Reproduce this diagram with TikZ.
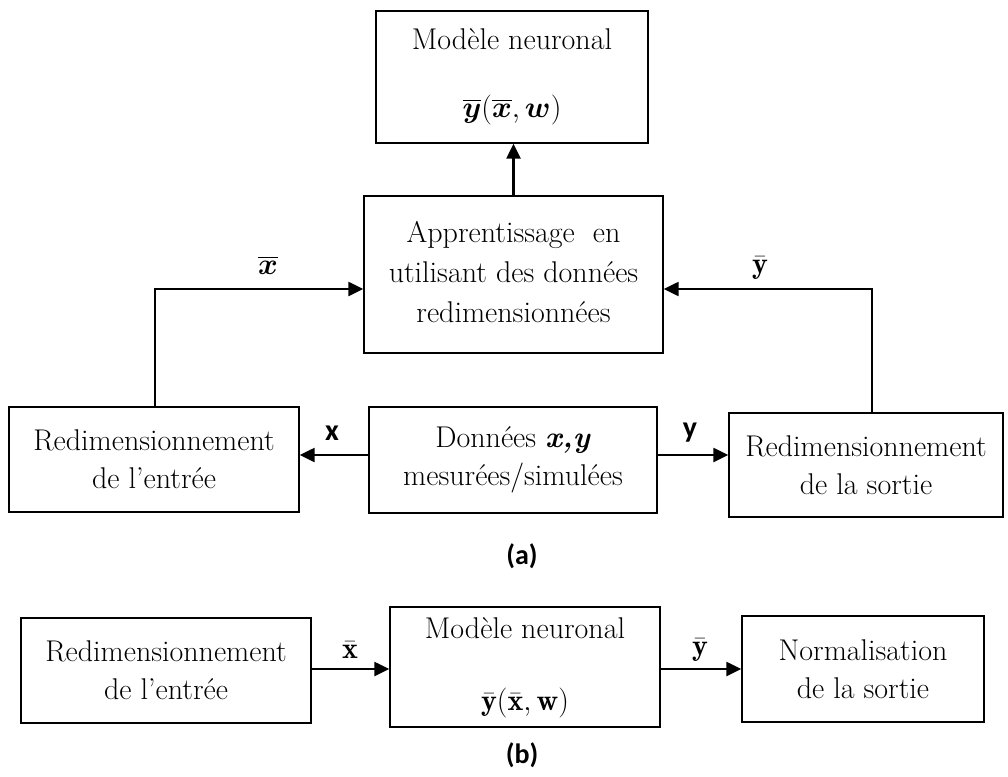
\RequirePackage{fix-cm}
\documentclass[tikz,border=0pt]{standalone}
\usepackage{amsmath}
\usepackage{bm}
\usepackage{fontspec}
\newfontfamily\calib{Carlito}
\usetikzlibrary{arrows.meta,calc}

\tikzset{
  blk/.style={draw=black, line width=1.4pt, inner sep=0pt, align=center,
              font=\fontsize{30}{38}\selectfont},
  flow/.style={line width=2.4pt, -{Triangle[length=15pt,width=14pt]}},
  sig/.style={font=\fontsize{30}{36}\selectfont},
  captext/.style={font=\calib\bfseries\fontsize{28}{34}\selectfont}
}

\begin{document}
\begin{tikzpicture}[x=1pt,y=-1pt]
\useasboundingbox (0,0) rectangle (1008,776);

% ---------- (a) ----------
\node[blk, minimum width=272pt, minimum height=132pt] (model) at (512,77)
  {Modèle neuronal\\[30pt]$\overline{\bm{y}}(\overline{\bm{x}},\bm{w})$};
\node[blk, minimum width=299pt, minimum height=157pt] (train) at (513.5,274.5)
  {\raisebox{-6pt}{\fontsize{30}{40}\selectfont
   \begin{tabular}{@{}c@{}}Apprentissage\ \ en\\utilisant des données\\redimensionnées\end{tabular}}};
\node[blk, minimum width=290pt, minimum height=105pt] (scin) at (154,459.5)
  {Redimensionnement\\de l’entrée};
\node[blk, minimum width=288pt, minimum height=106pt] (data) at (513,460)
  {Données \textbf{\textit{x,y}}\\mesurées/simulées};
\node[blk, minimum width=274pt, minimum height=104pt] (scout) at (866,465)
  {Redimensionnement\\de la sortie};

\coordinate (lup) at (155,289);
\coordinate (rup) at (872,289);
\coordinate (rbase) at ($(scout.north)+(6,0)$);

\draw[flow] (train.north) -- (train.north |- model.south);
\draw[flow] (scin.north -| lup) -- (lup) -- (lup -| train.west);
\draw[flow] (rbase) -- (rup) -- (rup -| train.east);
\draw[flow] (data.west |- 0,455) -- (scin.east |- 0,455);
\draw[flow] (data.east |- 0,455) -- (scout.west |- 0,455);

\node[sig] (lxbar) at (268,265) {$\overline{\bm{x}}$};
\node[sig] (lybar) at (760,268) {$\bar{\mathbf{y}}$};
\node[sig] (lx) at (332,433) {\calib\bfseries x};
\node[sig] (ly) at (690,433) {\calib\bfseries y};

\node[captext] (capa) at (522,556) {(a)};

% ---------- (b) ----------
\node[blk, minimum width=290pt, minimum height=105pt] (bin) at (166,670.5)
  {Redimensionnement\\de l’entrée};
\node[blk, minimum width=270pt, minimum height=120pt] (bmodel) at (525,667)
  {\raisebox{6pt}{\begin{tabular}{@{}c@{}}Modèle neuronal\\[34pt]$\bar{\mathbf{y}}(\bar{\mathbf{x}},\mathbf{w})$\end{tabular}}};
\node[blk, minimum width=242pt, minimum height=106pt] (bout) at (863,669)
  {Normalisation\\de la sortie};

\draw[flow] (bin.east |- 0,669) -- (bmodel.west |- 0,669);
\draw[flow] (bmodel.east |- 0,669) -- (bout.west |- 0,669);

\node[sig] (bxbar) at (350,650) {$\bar{\mathbf{x}}$};
\node[sig] (bybar) at (700,650) {$\bar{\mathbf{y}}$};

\node[captext] (capb) at (522,755) {(b)};
\end{tikzpicture}
\end{document}
